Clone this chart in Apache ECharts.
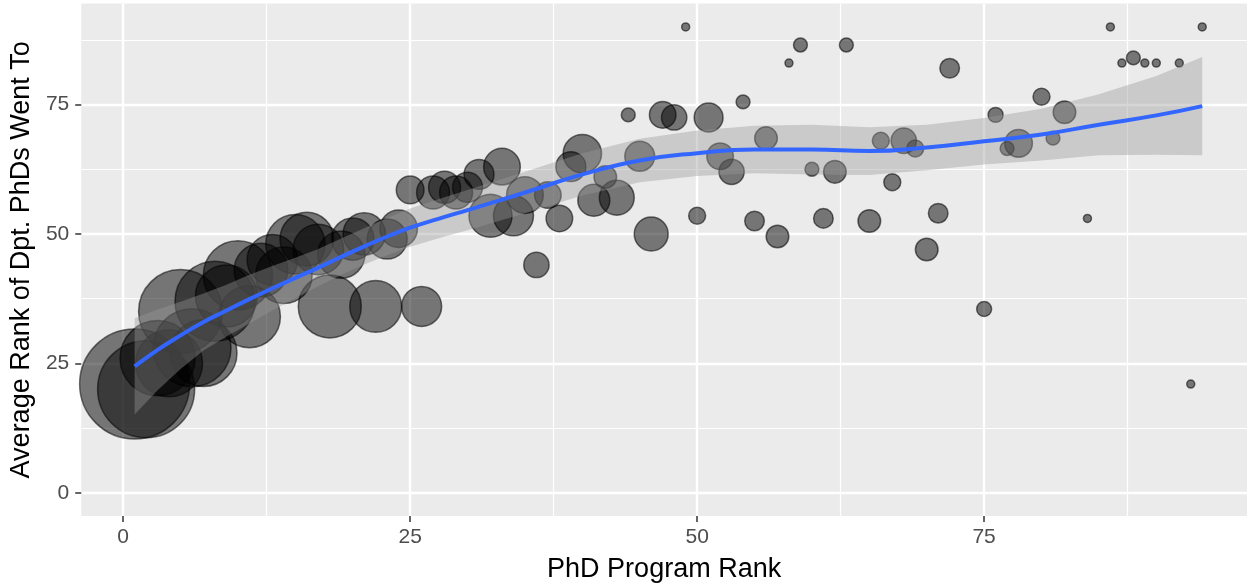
<!DOCTYPE html>
<html>
<head>
<meta charset="utf-8">
<title>PhD Program Rank</title>
<script src="https://cdn.jsdelivr.net/npm/echarts@6/dist/echarts.min.js"></script>
<style>
    html, body { margin: 0; padding: 0; background: #ffffff; }
    #chart { width: 1247px; height: 588px; }
</style>
</head>
<body>
<div id="chart"></div>
<script>
// ---- data ----
// one point per program rank
const rankX = [1, 2, 3, 4, 5, 6, 7, 8, 9, 10, 11, 12, 13, 14, 15, 16, 17, 18, 19, 20,
    21, 22, 23, 24, 25, 26, 27, 28, 29, 30, 31, 32, 33, 34, 35, 36, 37, 38, 39, 40,
    41, 42, 43, 44, 45, 46, 47, 48, 49, 50, 51, 52, 53, 54, 55, 56, 57, 58, 59, 60,
    61, 62, 63, 65, 66, 67, 68, 69, 70, 71, 72, 75, 76, 77, 78, 80, 81, 82, 84, 86,
    87, 88, 89, 90, 92, 93, 94];
const avgRankY = [21, 20, 26, 25, 35, 28, 27, 37, 38, 42, 34, 43, 45, 42, 48, 49, 47, 36, 46, 49,
    50, 36, 49, 51, 58.5, 36, 58, 59, 58, 59, 61.5, 53.5, 63, 53.5, 57.5, 44, 57.5, 53, 63, 65.5,
    56.5, 61, 57, 73, 65, 50, 73, 72.5, 90, 53.5, 72.5, 65, 62, 75.5, 52.5, 68.5, 49.5, 83, 86.5, 62.5,
    53, 62, 86.5, 52.5, 68, 60, 68, 66.5, 47, 54, 82, 35.5, 73, 66.5, 67.5, 76.5, 68.5, 73.5, 53, 90,
    83, 84, 83, 83, 83, 21, 90];
// number of PhDs placed (drives bubble area)
const phdCount = [189, 147, 88, 70, 110, 95, 70, 100, 60, 75, 60, 45, 40, 50, 55, 45, 40, 62, 35, 28,
    28, 42, 25, 22, 12, 25, 17, 16, 17, 14, 14, 29, 21, 25, 21, 10, 11, 11, 14, 23,
    16, 8, 19, 3, 14, 18, 11, 10, 1, 4.5, 13, 11, 10, 3, 6, 8, 8, 1, 3, 3,
    6, 8, 3, 8, 4.5, 4.5, 10, 4.5, 8, 6, 6, 3.5, 3.5, 3, 12, 4.5, 3, 8, 1, 1,
    1, 3, 1, 1, 1, 1, 1];

// loess fit and its confidence band
const smoothX = [1, 3, 5, 7, 9, 11, 13, 15, 17, 19, 21, 23, 25, 28, 30, 35, 40, 45, 50, 55,
    60, 65, 70, 75, 80, 85, 90, 94];
const smoothY = [24.4, 27.6, 30.4, 33, 35.2, 37.4, 39.5, 41.5, 43.5, 45.6, 47.6, 49.5, 51.2, 53.3, 54.6, 58, 61.5, 64.2, 65.6, 66.3,
    66.3, 66, 66.7, 67.9, 69.2, 71.1, 72.9, 74.7];
const bandLow = [15.1, 19.8, 23.9, 27.5, 30.2, 32.7, 35.2, 37.6, 39.9, 42.1, 44.1, 45.9, 47.5, 49.5, 50.7, 54, 57.4, 60, 61.2, 61.7,
    61.5, 61.4, 62.3, 63.4, 64.2, 65.2, 65.3, 65.2];
const bandHigh = [33.7, 35.4, 36.9, 38.5, 40.2, 42.1, 43.8, 45.4, 47.1, 49.1, 51.1, 53.1, 54.9, 57.1, 58.5, 62, 65.6, 68.4, 70, 70.9,
    71.1, 70.6, 71.1, 72.4, 74.2, 77, 80.5, 84.2];

// tick labels
const majorTicks = [0, 25, 50, 75];
const minorTicks = [12.5, 37.5, 62.5, 87.5];

const chart = echarts.init(document.getElementById('chart'));

const labelFont = 'Liberation Sans';

// second axis on each side, only there to lay the thin minor grid lines
function minorAxis(pos, min, max) {
    return {
        type: 'value', position: pos, min: min, max: max,
        axisLine: { show: false, onZero: false },
        axisTick: { show: false, customValues: minorTicks },
        axisLabel: { show: false, customValues: minorTicks },
        splitLine: { show: true, lineStyle: { color: '#ffffff', width: 1.2 } }
    };
}

const option = {
    animation: false,
    backgroundColor: '#ffffff',
    grid: {
        left: 81, right: 0, top: 3.6, bottom: 69.6,
        show: true, backgroundColor: '#EBEBEB', borderWidth: 0
    },
    xAxis: [{
        type: 'value', position: 'bottom', min: -3.65, max: 97.9,
        name: 'PhD Program Rank', nameLocation: 'middle', nameGap: 40,
        nameTextStyle: { fontFamily: labelFont, fontSize: 27, color: '#000000' },
        axisLine: { show: false, onZero: false },
        axisTick: { show: true, length: 6, customValues: majorTicks, lineStyle: { color: '#333333', width: 1.5 } },
        axisLabel: { customValues: majorTicks, margin: 11, fontFamily: labelFont, fontSize: 21, color: '#4D4D4D' },
        splitLine: { show: true, lineStyle: { color: '#ffffff', width: 2.4 } }
    }, minorAxis('top', -3.65, 97.9)],
    yAxis: [{
        type: 'value', position: 'left', min: -4.5, max: 94.5,
        name: 'Average Rank of Dpt. PhDs Went To', nameLocation: 'middle', nameGap: 42, nameRotate: 90,
        nameTextStyle: { fontFamily: labelFont, fontSize: 27, color: '#000000' },
        axisLine: { show: false, onZero: false },
        axisTick: { show: true, length: 6, customValues: majorTicks, lineStyle: { color: '#333333', width: 1.5 } },
        axisLabel: { customValues: majorTicks, margin: 12, fontFamily: labelFont, fontSize: 21, color: '#4D4D4D' },
        splitLine: { show: true, lineStyle: { color: '#ffffff', width: 2.4 } }
    }, minorAxis('right', -4.5, 94.5)],
    series: [{
        // bubbles
        type: 'scatter',
        data: rankX.map(function (x, i) { return [x, avgRankY[i], phdCount[i]]; }),
        symbolSize: function (val) { return 8 * Math.sqrt(val[2]); },
        itemStyle: { color: 'rgba(0,0,0,0.5)', borderColor: 'rgba(0,0,0,0.55)', borderWidth: 1.5, opacity: 1 },
        z: 2
    }, {
        // confidence band, drawn as one polygon through the axes
        type: 'custom',
        data: smoothX.map(function (x, i) { return [x, bandLow[i], bandHigh[i]]; }),
        encode: { x: 0, y: [1, 2] },
        renderItem: function (params, api) {
            if (params.dataIndex !== 0) return null;
            const pts = [];
            for (let i = 0; i < smoothX.length; i++) pts.push(api.coord([smoothX[i], bandHigh[i]]));
            for (let i = smoothX.length - 1; i >= 0; i--) pts.push(api.coord([smoothX[i], bandLow[i]]));
            return { type: 'polygon', shape: { points: pts }, style: { fill: 'rgba(153,153,153,0.4)' } };
        },
        silent: true,
        z: 3
    }, {
        // loess line
        type: 'line',
        data: smoothX.map(function (x, i) { return [x, smoothY[i]]; }),
        smooth: true,
        showSymbol: false,
        lineStyle: { color: '#3366FF', width: 4 },
        silent: true,
        z: 4
    }]
};

chart.setOption(option);
</script>
</body>
</html>
